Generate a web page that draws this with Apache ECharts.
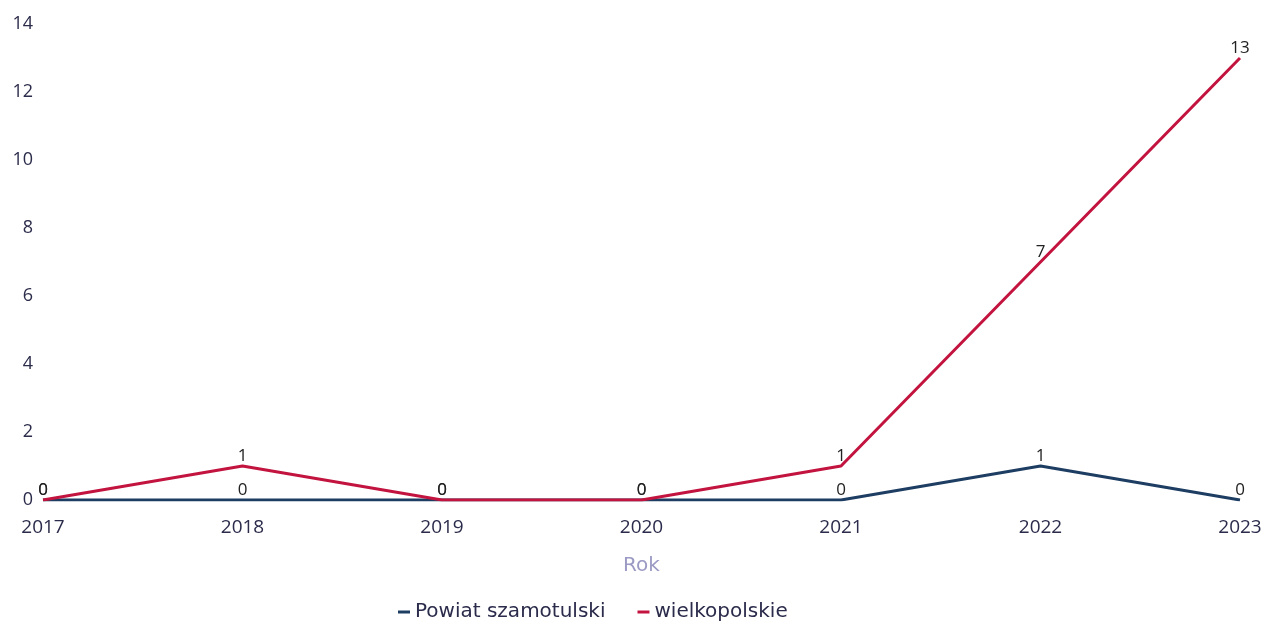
<!DOCTYPE html>
<html><head><meta charset="utf-8">
<script src="https://cdn.jsdelivr.net/npm/echarts@6/dist/echarts.min.js"></script>
<style>html,body{margin:0;padding:0;background:#fff}#c{width:1261px;height:625px}</style>
</head><body><div id="c"></div>
<script>
const years = ['2017','2018','2019','2020','2021','2022','2023'];
const powiat = [0,0,0,0,0,1,0];
const wielkopolskie = [0,1,0,0,1,7,13];
const yTicks = [0,2,4,6,8,10,12,14];
const font = 'Open Sans';
const chart = echarts.init(document.getElementById('c'));
chart.setOption({
  animation:false,
  textStyle:{fontFamily:font},
  grid:{left:43,right:21,top:24,bottom:125,containLabel:false,outerBoundsMode:'none'},
  legend:{top:597,left:393,itemWidth:12,itemHeight:3,itemGap:32,icon:'rect',
    textStyle:{fontFamily:'DejaVu Sans',fontSize:20,color:'#2b2b4b'},
    data:['Powiat szamotulski','wielkopolskie']},
  xAxis:{type:'category',data:years,boundaryGap:false,
    name:'Rok',nameLocation:'middle',nameGap:56,
    nameTextStyle:{fontFamily:'DejaVu Sans',fontSize:20,color:'#9a9ac4'},
    axisLine:{show:false},axisTick:{show:false},
    axisLabel:{fontFamily:font,fontSize:19,color:'#2b2b4b',margin:18}},
  yAxis:{type:'value',min:0,max:14,interval:2,
    axisLine:{show:false},axisTick:{show:false},splitLine:{show:false},
    axisLabel:{fontFamily:font,fontSize:18,color:'#2b2b4b',margin:10,
      formatter:v=>yTicks.includes(v)?String(v):''}},
  series:[
    {name:'Powiat szamotulski',type:'line',data:powiat,symbol:'circle',symbolSize:0.1,showSymbol:true,
      lineStyle:{width:3,color:'#1d3d62'},itemStyle:{color:'#1d3d62'},
      label:{show:true,position:'top',distance:1,fontFamily:font,fontSize:17,color:'#222'}},
    {name:'wielkopolskie',type:'line',data:wielkopolskie,symbol:'circle',symbolSize:0.1,showSymbol:true,
      lineStyle:{width:3,color:'#c2143f'},itemStyle:{color:'#c2143f'},
      label:{show:true,position:'top',distance:1,fontFamily:font,fontSize:17,color:'#222'}}
  ]
});
</script></body></html>
